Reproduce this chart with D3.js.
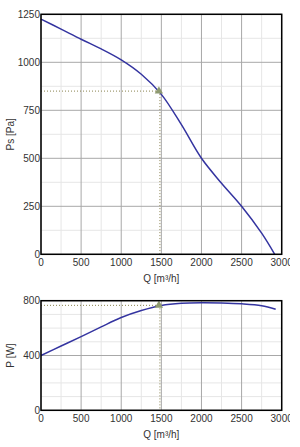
<!DOCTYPE html>
<html>
<head>
<meta charset="utf-8">
<script src="https://cdn.jsdelivr.net/npm/d3@7"></script>
<style>
  body { margin: 0; background: #fff; }
  svg { overflow: hidden; }
  text { font-family: "Liberation Sans", Arial, sans-serif; font-size: 10px; fill: #333; }
</style>
</head>
<body>
<script>
// curve data
const qPs = [0, 250, 500, 750, 1000, 1250, 1500, 1750, 2000, 2250, 2500, 2750, 2913];
const psValues = [1225, 1173, 1120, 1070, 1013, 938, 833, 675, 500, 370, 250, 110, 0];

const qP = [0, 250, 500, 750, 1000, 1250, 1500, 1750, 2000, 2250, 2500, 2750, 2925];
const pValues = [400, 469, 538, 609, 677, 728, 765, 781, 785, 783, 777, 763, 737];

// operating point
const opQ = 1482;
const opPs = 850;
const opP = 766;

const qTicks = [0, 500, 1000, 1500, 2000, 2500, 3000];
const qMinor = [250, 750, 1250, 1750, 2250, 2750];
const psTicks = [0, 250, 500, 750, 1000, 1250];
const psMinor = [125, 375, 625, 875, 1125];
const pTicks = [0, 400, 800];
const pMinor = [100, 200, 300, 500, 600, 700];

const w = 290;
const h = 447;

const svg = d3.select("body").append("svg").attr("width", w).attr("height", h);

const x = d3.scaleLinear().domain([0, 3000]).range([41, 281.7]);

function panel(yScale, yTicks, yMinor, qs, vals, opV, yTitle) {
  const g = svg.append("g");
  const top = yScale.range()[1];
  const bottom = yScale.range()[0];

  // minor grid
  g.selectAll(".mx").data(qMinor).enter().append("line")
    .attr("x1", (d) => x(d)).attr("x2", (d) => x(d))
    .attr("y1", top).attr("y2", bottom)
    .attr("stroke", "#e6e6e6").attr("stroke-width", 1);
  g.selectAll(".my").data(yMinor).enter().append("line")
    .attr("x1", x(0)).attr("x2", x(3000))
    .attr("y1", (d) => yScale(d)).attr("y2", (d) => yScale(d))
    .attr("stroke", "#e6e6e6").attr("stroke-width", 1);

  // major grid
  g.selectAll(".gx").data(qTicks).enter().append("line")
    .attr("x1", (d) => x(d)).attr("x2", (d) => x(d))
    .attr("y1", top).attr("y2", bottom)
    .attr("stroke", "#a8a8a8").attr("stroke-width", 1);
  g.selectAll(".gy").data(yTicks).enter().append("line")
    .attr("x1", x(0)).attr("x2", x(3000))
    .attr("y1", (d) => yScale(d)).attr("y2", (d) => yScale(d))
    .attr("stroke", "#a8a8a8").attr("stroke-width", 1);

  // operating point guides
  g.append("line")
    .attr("x1", x(0)).attr("x2", x(opQ))
    .attr("y1", yScale(opV)).attr("y2", yScale(opV))
    .attr("stroke", "#8a8450").attr("stroke-width", 1).attr("stroke-dasharray", "1,2");
  g.append("line")
    .attr("x1", x(opQ)).attr("x2", x(opQ))
    .attr("y1", yScale(opV)).attr("y2", bottom)
    .attr("stroke", "#8a8450").attr("stroke-width", 1).attr("stroke-dasharray", "1,2");

  // curve
  const line = d3.line()
    .x((d, i) => x(qs[i]))
    .y((d) => yScale(d))
    .curve(d3.curveCatmullRom.alpha(0.5));
  g.append("path")
    .datum(vals)
    .attr("d", line)
    .attr("fill", "none")
    .attr("stroke", "#3434a0")
    .attr("stroke-width", 1.5);

  // marker
  g.append("path")
    .attr("d", d3.symbol().type(d3.symbolTriangle).size(30))
    .attr("transform", "translate(" + (x(opQ) - 1) + "," + yScale(opV) + ")")
    .attr("fill", "#8e9a70");

  // frame
  g.append("rect")
    .attr("x", x(0)).attr("y", top)
    .attr("width", x(3000) - x(0)).attr("height", bottom - top)
    .attr("fill", "none").attr("stroke", "#000").attr("stroke-width", 1.5);

  // tick labels
  g.selectAll(".ty").data(yTicks).enter().append("text")
    .attr("x", 40).attr("y", (d) => yScale(d) + 3.5)
    .attr("text-anchor", "end")
    .text((d) => d);
  g.selectAll(".tx").data(qTicks).enter().append("text")
    .attr("x", (d) => x(d)).attr("y", bottom + 12)
    .attr("text-anchor", "middle")
    .text((d) => d);

  // axis titles
  g.append("text")
    .attr("x", (x(0) + x(3000)) / 2).attr("y", bottom + 28)
    .attr("text-anchor", "middle")
    .text("Q [m³/h]");
  g.append("text")
    .attr("transform", "translate(14," + (top + bottom) / 2 + ") rotate(-90)")
    .attr("text-anchor", "middle")
    .text(yTitle);
}

const yPs = d3.scaleLinear().domain([0, 1250]).range([254.3, 14.3]);
const yP = d3.scaleLinear().domain([0, 800]).range([410.3, 300.7]);

panel(yPs, psTicks, psMinor, qPs, psValues, opPs, "Ps [Pa]");
panel(yP, pTicks, pMinor, qP, pValues, opP, "P [W]");
</script>
</body>
</html>
